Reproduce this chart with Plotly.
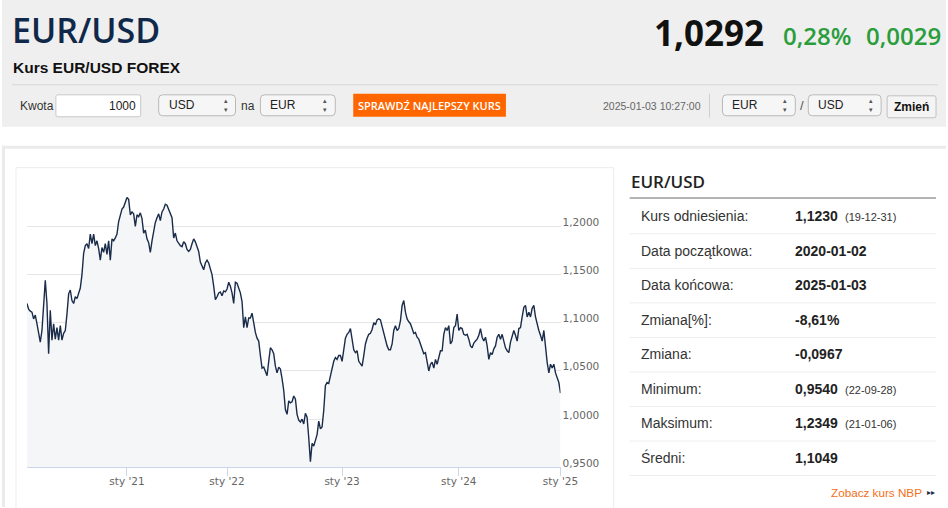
import plotly.graph_objects as go

# EUR/USD closing rates, one list per calendar year
y2020 = [1.120, 1.114, 1.112, 1.111, 1.104, 1.108, 1.099, 1.090, 1.080, 1.092,
         1.116, 1.144, 1.120, 1.068, 1.113, 1.082, 1.099, 1.083, 1.095, 1.082,
         1.097, 1.082, 1.089, 1.092, 1.109, 1.130, 1.134, 1.123, 1.120, 1.127,
         1.125, 1.130, 1.136, 1.150, 1.172, 1.180, 1.182, 1.177, 1.192, 1.182,
         1.192, 1.180, 1.185, 1.177, 1.165, 1.178, 1.173, 1.182, 1.171, 1.185,
         1.165, 1.187, 1.185, 1.188, 1.192, 1.205, 1.211, 1.218, 1.220, 1.225]
y2021 = [1.230, 1.228, 1.212, 1.215, 1.213, 1.200, 1.212, 1.210, 1.214, 1.208,
         1.193, 1.196, 1.187, 1.183, 1.173, 1.185, 1.196, 1.204, 1.209, 1.213,
         1.206, 1.215, 1.218, 1.223, 1.222, 1.218, 1.213, 1.209, 1.188, 1.193,
         1.185, 1.182, 1.180, 1.179, 1.184, 1.182, 1.176, 1.174, 1.176, 1.182,
         1.187, 1.184, 1.179, 1.174, 1.163, 1.158, 1.155, 1.162, 1.165, 1.162,
         1.157, 1.150, 1.138, 1.124, 1.127, 1.131, 1.132, 1.128, 1.133, 1.132]
y2022 = [1.135, 1.142, 1.138, 1.131, 1.120, 1.142, 1.141, 1.135, 1.131, 1.122,
         1.095, 1.106, 1.095, 1.105, 1.105, 1.110, 1.098, 1.090, 1.084, 1.081,
         1.066, 1.053, 1.054, 1.050, 1.045, 1.060, 1.074, 1.072, 1.068, 1.055,
         1.048, 1.054, 1.052, 1.042, 1.030, 1.010, 1.005, 1.019, 1.017, 1.018,
         1.024, 1.021, 1.005, 0.999, 0.997, 1.000, 0.995, 1.006, 1.002, 0.981,
         0.956, 0.975, 0.972, 0.978, 0.984, 0.998, 0.990, 0.992, 1.009, 1.035,
         1.038, 1.037, 1.045, 1.053, 1.060, 1.064, 1.062, 1.066, 1.066]
y2023 = [1.060, 1.070, 1.084, 1.088, 1.090, 1.094, 1.082, 1.072, 1.069, 1.071,
         1.060, 1.057, 1.055, 1.066, 1.078, 1.084, 1.088, 1.089, 1.093, 1.100,
         1.098, 1.103, 1.104, 1.103, 1.096, 1.088, 1.080, 1.076, 1.072, 1.072,
         1.078, 1.092, 1.097, 1.092, 1.094, 1.102, 1.118, 1.123, 1.111, 1.104,
         1.101, 1.099, 1.094, 1.089, 1.090, 1.085, 1.083, 1.078, 1.073, 1.068,
         1.069, 1.059, 1.050, 1.057, 1.059, 1.053, 1.062, 1.057, 1.064, 1.071,
         1.071, 1.088, 1.095, 1.092, 1.097, 1.078, 1.081, 1.095, 1.097, 1.109]
y2024 = [1.092, 1.095, 1.094, 1.088, 1.087, 1.088, 1.083, 1.076, 1.074, 1.079,
         1.081, 1.083, 1.087, 1.094, 1.085, 1.081, 1.085, 1.076, 1.062, 1.069,
         1.067, 1.073, 1.076, 1.085, 1.088, 1.083, 1.088, 1.081, 1.074, 1.071,
         1.069, 1.080, 1.085, 1.092, 1.087, 1.081, 1.094, 1.095, 1.106, 1.116,
         1.118, 1.106, 1.111, 1.106, 1.115, 1.118, 1.106, 1.097, 1.092, 1.087,
         1.081, 1.092, 1.071, 1.059, 1.048, 1.057, 1.053, 1.057, 1.048, 1.043,
         1.038]
y2025 = [1.027]

years = [y2020, y2021, y2022, y2023, y2024, y2025]
tick_labels = ["sty '21", "sty '22", "sty '23", "sty '24", "sty '25"]
y_ticks = [0.95, 1.00, 1.05, 1.10, 1.15, 1.20, 1.25]

row_labels = ["Kurs odniesienia:", "Data początkowa:", "Data końcowa:", "Zmiana[%]:",
              "Zmiana:", "Minimum:", "Maksimum:", "Średni:"]
row_values = ["1,1230", "2020-01-02", "2025-01-03", "-8,61%", "-0,0967",
              "0,9540", "1,2349", "1,1049"]
row_notes = ["(19-12-31)", "", "", "", "", "(22-09-28)", "(21-01-06)", ""]

# ordinal x axis: points are evenly spaced, a tick marks the first point of each year
values = [v for yr in years for v in yr]
xs = list(range(len(values)))
tick_pos = []
n = 0
for yr in years[:-1]:
    n += len(yr)
    tick_pos.append(n)

W, H = 948, 508
FIG_W = 964  # the capture is 16px wider than the window and gets squeezed back


def X(p):
    return p / W


def Y(p):
    return 1 - p / H


shapes = []
notes = []


def rect(x0, y0, x1, y1, fill, line=None, lw=1):
    shapes.append(dict(type="rect", xref="paper", yref="paper",
                       x0=X(x0), x1=X(x1), y0=Y(y1), y1=Y(y0), fillcolor=fill,
                       line=dict(color=line or fill, width=lw if line else 0),
                       layer="below"))


def hline(x0, x1, y, color, lw=1):
    shapes.append(dict(type="line", xref="paper", yref="paper",
                       x0=X(x0), x1=X(x1), y0=Y(y), y1=Y(y),
                       line=dict(color=color, width=lw), layer="below"))


def rrect(x0, y0, x1, y1, r, fill, line):
    p = (f"M {X(x0 + r)},{Y(y0)} L {X(x1 - r)},{Y(y0)} Q {X(x1)},{Y(y0)} {X(x1)},{Y(y0 + r)} "
         f"L {X(x1)},{Y(y1 - r)} Q {X(x1)},{Y(y1)} {X(x1 - r)},{Y(y1)} "
         f"L {X(x0 + r)},{Y(y1)} Q {X(x0)},{Y(y1)} {X(x0)},{Y(y1 - r)} "
         f"L {X(x0)},{Y(y0 + r)} Q {X(x0)},{Y(y0)} {X(x0 + r)},{Y(y0)} Z")
    shapes.append(dict(type="path", xref="paper", yref="paper", path=p,
                       fillcolor=fill, line=dict(color=line, width=1), layer="below"))


def text(x, y, s, size, color, family="Liberation Sans, Arial", weight=400, anchor="left"):
    notes.append(dict(xref="paper", yref="paper", x=X(x), y=Y(y), text=s,
                      showarrow=False, xanchor=anchor, yanchor="middle",
                      font=dict(family=family, size=size, color=color, weight=weight)))


def select(x0, x1, label):
    rrect(x0, 95, x1, 116, 4, "#f6f6f6", "#b9b9b9")
    text(x0 + 8, 105.5, label, 12, "#222")
    text(x1 - 10, 105.5, "▴<br>▾", 7, "#555", family="DejaVu Sans", anchor="center")


# header band
rect(2, 0, W, 127, "#efefef")
hline(12, 940, 85, "#d6d6d6")
text(10, 30, "EUR/USD", 34, "#10284a", family="Open Sans", weight=600)
text(768, 33, "1,0292", 35, "#111", family="Open Sans", weight=700, anchor="right")
text(11, 68, "Kurs EUR/USD FOREX", 15.5, "#111", weight=700)
text(783, 36, "0,28%", 24, "#2a9d3c", family="Open Sans", weight=600)
text(866, 36, "0,0029", 24, "#2a9d3c", family="Open Sans", weight=600)

# converter controls
text(18, 106, "Kwota", 12, "#333")
rrect(56, 95, 141, 117, 2, "#ffffff", "#c8c8c8")
text(138, 106, "1000", 12, "#222", anchor="right")
select(159, 236, "USD")
text(240, 106, "na", 12, "#333")
select(261, 336, "EUR")
rect(354, 94, 507, 117, "#ff6600")
text(430.5, 105.5, "SPRAWDŹ NAJLEPSZY KURS", 11, "#ffffff", family="Open Sans",
     weight=600, anchor="center")
text(602, 106.5, "2025-01-03 10:27:00", 10.5, "#666")
shapes.append(dict(type="line", xref="paper", yref="paper", x0=X(711), x1=X(711),
                   y0=Y(94), y1=Y(118), line=dict(color="#cfcfcf", width=1)))
select(724, 797, "EUR")
text(803.5, 106, "/", 13, "#555", anchor="center")
select(810, 883, "USD")
rrect(889, 96, 938, 118, 2, "#f4f4f4", "#c0c0c0")
text(913.5, 107, "Zmień", 12, "#111", weight=700, anchor="center")

# content panels
rect(2, 146, W, 149, "#ebebeb")
rect(2, 146, 5, H, "#ebebeb")
shapes.append(dict(type="rect", xref="paper", yref="paper", x0=X(16), x1=X(615),
                   y0=Y(H + 5), y1=Y(168), fillcolor="rgba(0,0,0,0)",
                   line=dict(color="#ececec", width=1), layer="below"))

# stats table
text(630, 182, "EUR/USD", 17, "#222", family="Open Sans", weight=600)
hline(631, 938, 198.5, "#9a9a9a", 1.5)
for i, (lab, val, note) in enumerate(zip(row_labels, row_values, row_notes)):
    cy = 216.7 + i * 34.6
    text(640, cy, lab, 14, "#333")
    text(794.5, cy, val, 14, "#222", weight=700)
    if note:
        text(845, cy + 1, note, 11, "#333")
    hline(631, 938, cy + 17.6, "#eeeeee")
text(925.5, 493, "Zobacz kurs NBP", 11.7, "#f36f21", anchor="right")
text(939, 493, "▸▸", 8, "#1d2d47", family="DejaVu Sans", anchor="right")

fig = go.Figure()
fig.add_trace(go.Scatter(
    x=xs, y=values, mode="lines",
    line=dict(color="#1a2c4a", width=1.4),
    fill="tozeroy", fillcolor="#f4f6f8",
    hoverinfo="skip", showlegend=False,
))

fig.update_xaxes(
    domain=[X(27), X(561.7)], range=[0, len(values) - 1],
    tickvals=tick_pos, ticktext=tick_labels,
    showgrid=False, zeroline=False,
    showline=True, linecolor="#ccd6eb", linewidth=1,
    ticks="outside", ticklen=8, tickcolor="#ccd6eb", ticklabelstandoff=-4,
    tickfont=dict(family="DejaVu Sans", size=10.5, color="#666"),
)
fig.update_yaxes(
    domain=[Y(468.3), Y(178.5)], range=[0.95, 1.25], side="right",
    tickvals=y_ticks,
    ticktext=[f"{v:.4f}".replace(".", ",") if v < 1.25 else "" for v in y_ticks],
    ticklabelposition="outside top", ticklabelshift=3, ticklabelstandoff=1,
    showgrid=True, gridcolor="#e6e6e6", gridwidth=1, zeroline=False,
    tickfont=dict(family="DejaVu Sans", size=10.5, color="#666"),
)
fig.update_layout(
    width=FIG_W, height=H, margin=dict(l=0, r=0, t=0, b=0),
    paper_bgcolor="#ffffff", plot_bgcolor="#ffffff",
    shapes=shapes, annotations=notes, showlegend=False,
)

fig.write_html("out.html", config={"displayModeBar": False},
               post_script="document.body.style.margin='0';document.body.style.overflow='hidden';")
